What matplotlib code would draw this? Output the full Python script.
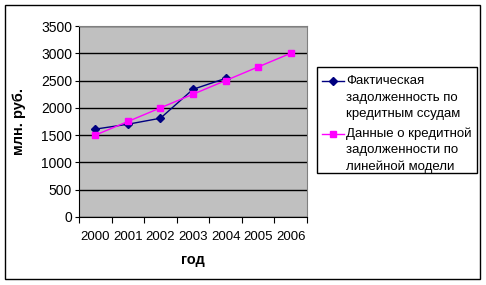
import matplotlib
matplotlib.use("Agg")
import matplotlib.pyplot as plt
from matplotlib.patches import Rectangle
from matplotlib.lines import Line2D

years = ["2000", "2001", "2002", "2003", "2004", "2005", "2006"]
fact = [1610, 1700, 1810, 2340, 2540]
model = [1500, 1750, 2000, 2250, 2500, 2750, 3000]
label_fact = ["Фактическая", "задолженность по", "кредитным ссудам"]
label_model = ["Данные о кредитной", "задолженности по", "линейной модели"]

plt.rcParams['font.family'] = ['Liberation Sans', 'DejaVu Sans']

W, H = 486, 285
fig = plt.figure(figsize=(W/100, H/100), dpi=100)
# рамка вокруг всей диаграммы
fig.patches.append(Rectangle((5/W, 1-279/H), 475/W, 274/H,
                             transform=fig.transFigure, fill=False,
                             edgecolor='black', linewidth=1))

ax = fig.add_axes([79/W, 1-217/H, 228/W, 191/H])
ax.set_facecolor('#C0C0C0')
for s in ax.spines.values():
    s.set_color('#808080')
ax.spines['left'].set_color('black')
ax.spines['bottom'].set_color('black')

x = list(range(len(years)))
ax.plot(x[:len(fact)], fact, color='#000080', marker='D', markersize=4,
        linewidth=1, zorder=3)
ax.plot(x, model, color='#FF00FF', marker='s', markersize=5,
        linewidth=1, zorder=4)

ax.set_xlim(-0.5, len(years) - 0.5)
ax.set_ylim(0, 3500)
ax.set_yticks(range(0, 3501, 500))
ax.yaxis.grid(True, color='black', linewidth=1)
ax.set_axisbelow(True)

ax.set_xticks([i - 0.5 for i in range(len(years) + 1)])
ax.set_xticklabels([])
ax.set_xticks(x, minor=True)
ax.set_xticklabels(years, minor=True)
ax.tick_params(axis='x', which='minor', length=0, pad=10, labelsize=9.5)
ax.tick_params(axis='x', which='major', length=4, direction='out')
ax.tick_params(axis='y', length=3, direction='out', labelsize=10, pad=2)

ax.set_xlabel("год", fontsize=10.5, fontweight='bold', labelpad=7)
ax.set_ylabel("млн. руб.", fontsize=10.5, fontweight='bold', labelpad=11)

# легенда вручную, как в Excel: маркер напротив первой строки
fig.patches.append(Rectangle((317/W, 1-173/H), 160/W, 106/H,
                             transform=fig.transFigure, fill=False,
                             edgecolor='black', linewidth=1))
entries = [(label_fact, '#000080', 'D', 4, 81),
           (label_model, '#FF00FF', 's', 5, 134)]
for lines, col, mk, ms, y0 in entries:
    fig.lines.append(Line2D([322/W, 344/W], [1-y0/H, 1-y0/H], color=col,
                            linewidth=1, transform=fig.transFigure))
    fig.lines.append(Line2D([333/W], [1-y0/H], color=col, marker=mk,
                            markersize=ms, transform=fig.transFigure))
    for i, t in enumerate(lines):
        fig.text(346/W, 1-(y0 + i*16.5)/H, t, fontsize=9.5, va='center',
                 ha='left')

fig.savefig("out.png", dpi=100)
